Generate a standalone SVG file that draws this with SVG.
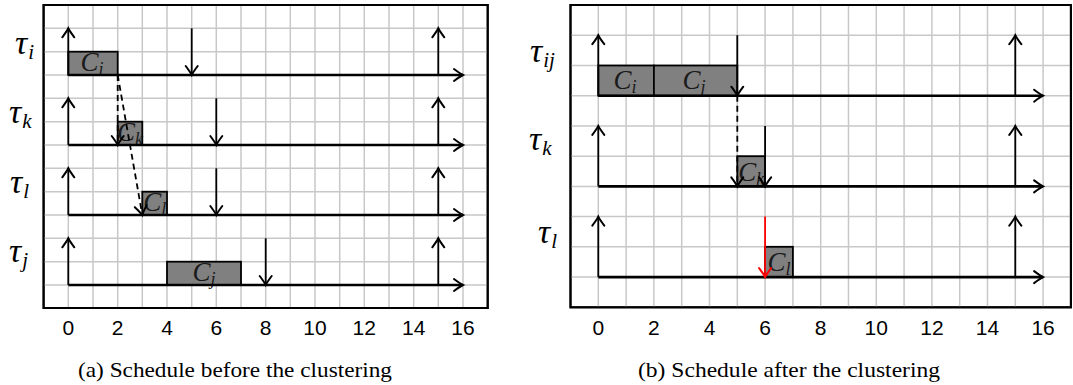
<svg xmlns="http://www.w3.org/2000/svg" width="1073" height="385" viewBox="0 0 1073 385">
<style>
.grid{stroke:#c8c8c8;stroke-width:1.5;fill:none}
.frame{stroke:#000;stroke-width:2;fill:#fff}
.axis{stroke:#000;stroke-width:2.6;fill:none}
.arr{stroke:#000;stroke-width:1.8;fill:none}
.dash{stroke:#000;stroke-width:1.8;fill:none;stroke-dasharray:6 4}
.red{stroke:#ff0000;stroke-width:1.8;fill:none}
.box{fill:#808080;stroke:#000;stroke-width:1.8}
.tau{font-family:"Liberation Serif","DejaVu Serif",serif;font-style:italic;font-size:34px;fill:#000}
.cl{font-family:"Liberation Serif","DejaVu Serif",serif;font-style:italic;font-size:27px;fill:#1a1a1a}
.sub{font-size:21px}
.csub{font-size:18px}
.tick{font-family:"Liberation Sans",Arial,sans-serif;font-size:21px;fill:#000;text-anchor:middle}
.cap{font-family:"Liberation Serif","Times New Roman",serif;font-size:22px;fill:#000}
</style>
<defs>
<marker id="ah" markerUnits="userSpaceOnUse" markerWidth="20" markerHeight="20" viewBox="-12 -10 14 20" refX="0" refY="0" orient="auto">
<path d="M-9,-6 Q-3,-1.5 0,0 Q-3,1.5 -9,6" fill="none" stroke="#000" stroke-width="2" stroke-linecap="round"/>
</marker>
<marker id="ahr" markerUnits="userSpaceOnUse" markerWidth="20" markerHeight="20" viewBox="-12 -10 14 20" refX="0" refY="0" orient="auto">
<path d="M-9,-6 Q-3,-1.5 0,0 Q-3,1.5 -9,6" fill="none" stroke="#ff0000" stroke-width="2" stroke-linecap="round"/>
</marker>
</defs>

<g id="panel-a">
<rect class="frame" x="43.6" y="5" width="444.1" height="303"/>
<path class="grid" d="M68.3,5V308 M93,5V308 M117.7,5V308 M142.3,5V308 M167,5V308 M191.7,5V308 M216.3,5V308 M241,5V308 M265.7,5V308 M290.3,5V308 M315,5V308 M339.7,5V308 M364.3,5V308 M389,5V308 M413.7,5V308 M438.3,5V308 M463,5V308
M43.6,28.3H487.7 M43.6,51.7H487.7 M43.6,75H487.7 M43.6,98.3H487.7 M43.6,121.7H487.7 M43.6,145H487.7 M43.6,168.3H487.7 M43.6,191.7H487.7 M43.6,215H487.7 M43.6,238.3H487.7 M43.6,261.7H487.7 M43.6,285H487.7"/>
<rect x="43.6" y="5" width="444.1" height="303" fill="none" stroke="#000" stroke-width="2"/>

<g id="task-i">
<text class="tau" x="15" y="54">τ<tspan class="sub" dx="1" dy="5">i</tspan></text>
<rect class="box" x="68.3" y="51.7" width="49.4" height="23.3"/>
<text class="cl" x="92" y="71" text-anchor="middle">C<tspan class="csub" dy="4">i</tspan></text>
</g>
<g id="task-k">
<text class="tau" x="9" y="123">τ<tspan class="sub" dx="1" dy="5">k</tspan></text>
<rect class="box" x="117.7" y="121.7" width="24.6" height="23.3"/>
<text class="cl" x="130" y="141" text-anchor="middle">C<tspan class="csub" dy="4">k</tspan></text>
</g>
<g id="task-l">
<text class="tau" x="10" y="193">τ<tspan class="sub" dx="1" dy="5">l</tspan></text>
<rect class="box" x="142.3" y="191.7" width="24.7" height="23.3"/>
<text class="cl" x="154.7" y="211" text-anchor="middle">C<tspan class="csub" dy="4">l</tspan></text>
</g>
<g id="task-j">
<text class="tau" x="9" y="262">τ<tspan class="sub" dx="1" dy="5">j</tspan></text>
<rect class="box" x="167" y="261.7" width="74" height="23.3"/>
<text class="cl" x="204" y="281" text-anchor="middle">C<tspan class="csub" dy="4">j</tspan></text>
</g>

<g id="ticks-a">
<text class="tick" x="68.3" y="335">0</text>
<text class="tick" x="117.7" y="335">2</text>
<text class="tick" x="167" y="335">4</text>
<text class="tick" x="216.3" y="335">6</text>
<text class="tick" x="265.7" y="335">8</text>
<text class="tick" x="315" y="335">10</text>
<text class="tick" x="364.3" y="335">12</text>
<text class="tick" x="413.7" y="335">14</text>
<text class="tick" x="463" y="335">16</text>
</g>
<text class="cap" x="78" y="377" textLength="314" lengthAdjust="spacingAndGlyphs">(a) Schedule before the clustering</text>
</g>

<g id="panel-b">
<rect class="frame" x="570.5" y="5" width="500.4" height="302.3"/>
<path class="grid" d="M598.3,5V307.3 M626.1,5V307.3 M653.9,5V307.3 M681.7,5V307.3 M709.5,5V307.3 M737.3,5V307.3 M765.1,5V307.3 M792.9,5V307.3 M820.7,5V307.3 M848.5,5V307.3 M876.3,5V307.3 M904.1,5V307.3 M931.9,5V307.3 M959.7,5V307.3 M987.5,5V307.3 M1015.3,5V307.3 M1043.1,5V307.3
M570.5,35.2H1070.9 M570.5,65.5H1070.9 M570.5,95.7H1070.9 M570.5,125.9H1070.9 M570.5,156.2H1070.9 M570.5,186.4H1070.9 M570.5,216.6H1070.9 M570.5,246.8H1070.9 M570.5,277.1H1070.9"/>
<rect x="570.5" y="5" width="500.4" height="302.3" fill="none" stroke="#000" stroke-width="2"/>

<g id="task-ij">
<text class="tau" x="530" y="62">τ<tspan class="sub" dx="1" dy="5">ij</tspan></text>
<rect class="box" x="598.3" y="65.5" width="55.6" height="30.2"/>
<rect class="box" x="653.9" y="65.5" width="83.4" height="30.2"/>
<text class="cl" x="625" y="89" text-anchor="middle">C<tspan class="csub" dy="4">i</tspan></text>
<text class="cl" x="694" y="89" text-anchor="middle">C<tspan class="csub" dy="4">j</tspan></text>
</g>
<g id="task-k2">
<text class="tau" x="529" y="150">τ<tspan class="sub" dx="1" dy="5">k</tspan></text>
<rect class="box" x="737.3" y="156.2" width="27.8" height="30.2"/>
<text class="cl" x="751.2" y="181" text-anchor="middle">C<tspan class="csub" dy="4">k</tspan></text>
</g>
<g id="task-l2">
<text class="tau" x="538" y="243">τ<tspan class="sub" dx="1" dy="5">l</tspan></text>
<rect class="box" x="765.1" y="246.8" width="27.8" height="30.3"/>
<text class="cl" x="779" y="271" text-anchor="middle">C<tspan class="csub" dy="4">l</tspan></text>
</g>

<g id="ticks-b">
<text class="tick" x="598.3" y="335">0</text>
<text class="tick" x="653.9" y="335">2</text>
<text class="tick" x="709.5" y="335">4</text>
<text class="tick" x="765.1" y="335">6</text>
<text class="tick" x="820.7" y="335">8</text>
<text class="tick" x="876.3" y="335">10</text>
<text class="tick" x="931.9" y="335">12</text>
<text class="tick" x="987.5" y="335">14</text>
<text class="tick" x="1043.1" y="335">16</text>
</g>
<text class="cap" x="638" y="377" textLength="302" lengthAdjust="spacingAndGlyphs">(b) Schedule after the clustering</text>
</g>

<g id="connectors">
<path class="axis" d="M68.3,75H463" marker-end="url(#ah)"/>
<path class="axis" d="M68.3,145H463" marker-end="url(#ah)"/>
<path class="axis" d="M68.3,215H463" marker-end="url(#ah)"/>
<path class="axis" d="M68.3,285H463" marker-end="url(#ah)"/>
<path class="arr" d="M68.3,75V28.3" marker-end="url(#ah)"/>
<path class="arr" d="M438.3,75V28.3" marker-end="url(#ah)"/>
<path class="arr" d="M68.3,145V98.3" marker-end="url(#ah)"/>
<path class="arr" d="M438.3,145V98.3" marker-end="url(#ah)"/>
<path class="arr" d="M68.3,215V168.3" marker-end="url(#ah)"/>
<path class="arr" d="M438.3,215V168.3" marker-end="url(#ah)"/>
<path class="arr" d="M68.3,285V238.3" marker-end="url(#ah)"/>
<path class="arr" d="M438.3,285V238.3" marker-end="url(#ah)"/>
<path class="arr" d="M191.7,28.3V75" marker-end="url(#ah)"/>
<path class="arr" d="M216.3,98.3V145" marker-end="url(#ah)"/>
<path class="arr" d="M216.3,168.3V215" marker-end="url(#ah)"/>
<path class="arr" d="M265.7,238.3V285" marker-end="url(#ah)"/>
<path class="dash" d="M117.7,75V145" marker-end="url(#ah)"/>
<path class="dash" d="M117.7,75L142.3,215" marker-end="url(#ah)"/>
<path class="axis" d="M598.3,95.7H1043.1" marker-end="url(#ah)"/>
<path class="axis" d="M598.3,186.4H1043.1" marker-end="url(#ah)"/>
<path class="axis" d="M598.3,277.1H1043.1" marker-end="url(#ah)"/>
<path class="arr" d="M598.3,95.7V35.2" marker-end="url(#ah)"/>
<path class="arr" d="M1015.3,95.7V35.2" marker-end="url(#ah)"/>
<path class="arr" d="M598.3,186.4V125.9" marker-end="url(#ah)"/>
<path class="arr" d="M1015.3,186.4V125.9" marker-end="url(#ah)"/>
<path class="arr" d="M598.3,277.1V216.6" marker-end="url(#ah)"/>
<path class="arr" d="M1015.3,277.1V216.6" marker-end="url(#ah)"/>
<path class="arr" d="M737.3,35.2V95.7" marker-end="url(#ah)"/>
<path class="arr" d="M765.1,125.9V186.4" marker-end="url(#ah)"/>
<path class="red" d="M765.1,216.6V277.1" marker-end="url(#ahr)"/>
<path class="dash" d="M737.3,95.7V186.4" marker-end="url(#ah)"/>
</g>
</svg>
